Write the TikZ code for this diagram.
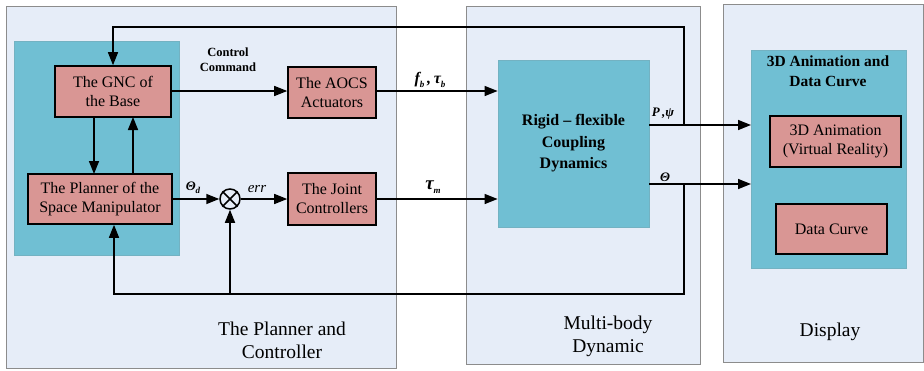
\documentclass[tikz,border=0pt]{standalone}
\usepackage{fontspec}
\setmainfont{Liberation Serif}
\usetikzlibrary{arrows.meta,calc}
\definecolor{panelbg}{HTML}{E6EDF8}
\definecolor{panelln}{HTML}{8C8C8C}
\definecolor{tealbx}{HTML}{70BFD3}
\definecolor{pinkbx}{HTML}{D99694}
\newcommand\sbs[1]{\raisebox{-0.45ex}{\fontsize{9}{10}\selectfont\itshape #1}}
\tikzset{
  panel/.style={draw=panelln, line width=1pt, fill=panelbg},
  tealarea/.style={draw=tealbx!80!gray, line width=0.8pt, fill=tealbx},
  blk/.style={draw=black, line width=1.6pt, fill=pinkbx, align=center, inner sep=0pt,
    font=\fontsize{16}{19}\selectfont},
  conn/.style={line width=1.5pt, -{Triangle[length=13pt,width=10pt]}},
  lbl/.style={inner sep=0pt, font=\fontsize{16}{18}\selectfont\bfseries\itshape},
  ptitle/.style={align=center, font=\fontsize{19.5}{23}\selectfont, inner sep=0pt},
}
\begin{document}
\begin{tikzpicture}[x=1pt,y=-1pt]
\useasboundingbox (0,0) rectangle (924,370);
% panels
\path[panel] (6,6) rectangle (396,368);
\path[panel] (466,6) rectangle (700,364);
\path[panel] (723,4) rectangle (923,362);
% teal areas
\path[tealarea] (14,41) rectangle (179,255);
\path[tealarea] (751,50) rectangle (906,268);
% panel titles
\node[ptitle] (t1) at (282,340) {The Planner and\\Controller};
\node[ptitle] (t2) at (608,336) {Multi-body\\Dynamic};
\node[ptitle] (t3) at (830,332) {Display};
% blocks
\node[blk, minimum width=116pt, minimum height=51pt] (gnc) at (113,91.5) {The GNC of\\the Base};
\node[blk, minimum width=144pt, minimum height=50pt] (plan) at (100,199) {The Planner of the\\Space Manipulator};
\node[blk, minimum width=88pt, minimum height=51pt] (aocs) at (332,92.5) {The AOCS\\Actuators};
\node[blk, minimum width=88pt, minimum height=52pt] (joint) at (332,199) {The Joint\\Controllers};
\node[draw=tealbx!80!gray, line width=0.8pt, fill=tealbx, minimum width=151pt, minimum height=167pt,
  align=center, font=\fontsize{16}{21.5}\selectfont\bfseries] (rig) at (573.5,143.5) {Rigid – flexible\\Coupling\\Dynamics};
\node[align=center, inner sep=0pt, font=\fontsize{15.5}{20}\selectfont\bfseries] (dtitle) at (828,71) {3D Animation and\\Data Curve};
\coordinate (disp) at (751,159);
\node[blk, minimum width=131pt, minimum height=51pt] (anim) at (835.5,141.5) {3D Animation\\(Virtual Reality)};
\node[blk, minimum width=111pt, minimum height=50pt] (curve) at (831.5,229) {Data Curve};
% summing junction
\node[draw, circle, line width=1.5pt, minimum size=20pt, inner sep=0pt, fill=panelbg] (sum) at (230,199) {};
\draw[line width=1.5pt] (sum.north west) -- (sum.south east) (sum.north east) -- (sum.south west);
% control command
\node[align=center, inner sep=0pt, font=\fontsize{12.5}{15}\selectfont\bfseries] (cc) at (228,59.5) {Control\\Command};
% connectors
\draw[conn] (gnc.east |- 0,91) -- (aocs.west |- 0,91);
\draw[conn] (aocs.east |- 0,91) -- (rig.west |- 0,91);
\draw[conn] (joint.east) -- (rig.west |- joint.east);
\draw[conn] (plan.east) -- (sum.west);
\draw[conn] (sum.east) -- (joint.west);
\draw[conn] (94,117) coordinate (g1) -- (94,174) coordinate (p1);
\draw[conn] (133,174) coordinate (p2) -- (133,117) coordinate (g2);
% outputs
\coordinate (j1) at (684,125);
\coordinate (j2) at (684,184);
\draw[conn] (rig.east |- j1) -- (disp |- j1);
\draw[conn] (rig.east |- j2) -- (disp |- j2);
% feedback loops
\coordinate (tp) at (684,27);
\draw[conn] (j1) -- (tp) -| (gnc.north);
\coordinate (bt) at (684,294);
\coordinate (bl) at (114,294);
\draw[conn] (j2) -- (bt) -- (bl) -- (bl |- plan.south);
\draw[conn] (sum |- bt) -- (sum.south);
% labels
\node[lbl] (lfb) at (430,80) {f\sbs{b}\,,\,τ\sbs{b}};
\node[lbl, font=\fontsize{19}{20}\selectfont\bfseries\itshape] (ltm) at (433,187) {τ\sbs{m}};
\node[lbl, font=\fontsize{13}{14}\selectfont\bfseries\itshape] (lthd) at (193,188) {Θ\sbs{d}};
\node[lbl, font=\fontsize{15}{16}\selectfont\itshape] (lerr) at (257,189) {err};
\node[lbl, font=\fontsize{13}{14}\selectfont\bfseries\itshape] (lpp) at (663,114) {P\,,ψ};
\node[lbl, font=\fontsize{13}{14}\selectfont\bfseries\itshape] (lth) at (665,177) {Θ};
\end{tikzpicture}
\end{document}
